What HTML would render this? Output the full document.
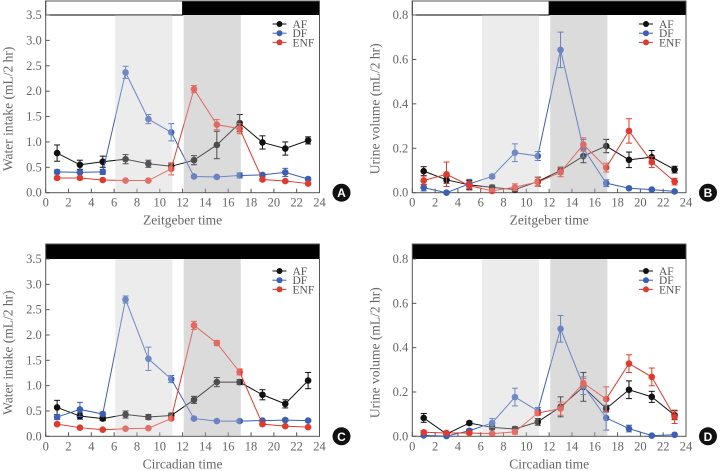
<!DOCTYPE html>
<html><head><meta charset="utf-8"><style>
body{margin:0;background:#fff;}
svg{display:block;font-family:"Liberation Serif",serif;}
</style></head><body>
<svg id="fig" width="720" height="471" viewBox="0 0 720 471" xmlns="http://www.w3.org/2000/svg"></svg>
<script>
const hours=[1,3,5,7,9,11,13,15,17,19,21,23];
const xTicks=[0,2,4,6,8,10,12,14,16,18,20,22,24];
const waterTicks=[0,0.5,1.0,1.5,2.0,2.5,3.0,3.5];
const urineTicks=[0,0.2,0.4,0.6,0.8];
const seriesNames=["AF","DF","ENF"];
// Panel A
const aAF=[0.78,0.55,0.61,0.66,0.57,0.52,0.64,0.94,1.37,0.99,0.87,1.03];
const aAFe=[0.16,0.09,0.11,0.09,0.07,0.05,0.09,0.27,0.17,0.13,0.13,0.07];
const aDF=[0.41,0.40,0.41,2.37,1.45,1.19,0.32,0.31,0.34,0.35,0.40,0.27];
const aDFe=[0.04,0.03,0.05,0.12,0.09,0.17,0.02,0.02,0.05,0.03,0.08,0.03];
const aENF=[0.29,0.29,0.25,0.24,0.24,0.47,2.04,1.34,1.26,0.26,0.23,0.18];
const aENFe=[0.03,0.02,0.02,0.02,0.02,0.12,0.07,0.10,0.10,0.03,0.02,0.02];
// Panel B
const bAF=[0.097,0.058,0.035,0.024,0.014,0.05,0.10,0.165,0.21,0.148,0.16,0.104];
const bAFe=[0.02,0.015,0.02,0.01,0.01,0.02,0.015,0.03,0.03,0.035,0.03,0.015];
const bDF=[0.023,0,0.04,0.073,0.18,0.165,0.643,0.2,0.043,0.02,0.014,0.006];
const bDFe=[0.015,0.005,0.02,0.008,0.04,0.02,0.08,0.04,0.015,0.005,0.005,0.005];
const bENF=[0.055,0.083,0.032,0.008,0.025,0.048,0.092,0.217,0.113,0.278,0.138,0.05];
const bENFe=[0.02,0.055,0.02,0.005,0.015,0.02,0.02,0.03,0.02,0.055,0.025,0.015];
// Panel C
const cAF=[0.57,0.40,0.35,0.43,0.38,0.41,0.72,1.07,1.07,0.82,0.64,1.10];
const cAFe=[0.14,0.06,0.04,0.07,0.05,0.05,0.07,0.09,0.05,0.10,0.08,0.16];
const cDF=[0.38,0.53,0.44,2.70,1.53,1.13,0.35,0.30,0.30,0.31,0.32,0.31];
const cDFe=[0.05,0.14,0.04,0.07,0.23,0.07,0.03,0.02,0.03,0.02,0.03,0.02];
const cENF=[0.24,0.17,0.13,0.15,0.16,0.35,2.19,1.84,1.27,0.24,0.20,0.18];
const cENFe=[0.03,0.02,0.02,0.02,0.02,0.03,0.08,0.05,0.06,0.03,0.02,0.02];
// Panel D
const dAF=[0.083,0.01,0.06,0.04,0.033,0.065,0.133,0.223,0.125,0.21,0.178,0.095];
const dAFe=[0.02,0.005,0.008,0.01,0.01,0.015,0.045,0.065,0.015,0.04,0.025,0.02];
const dDF=[0.004,0.001,0.025,0.06,0.177,0.115,0.485,0.228,0.083,0.035,0.003,0.007];
const dDFe=[0.005,0.003,0.008,0.02,0.04,0.015,0.06,0.04,0.055,0.015,0.003,0.005];
const dENF=[0.018,0.015,0.015,0.012,0.02,0.105,0.125,0.24,0.168,0.328,0.268,0.088];
const dENFe=[0.008,0.005,0.005,0.005,0.01,0.01,0.03,0.02,0.055,0.04,0.04,0.03];

const NS="http://www.w3.org/2000/svg";
const svg=document.getElementById("fig");
function mk(tag,attrs,parent,text){const e=document.createElementNS(NS,tag);for(const k in attrs)e.setAttribute(k,attrs[k]);if(text!==undefined)e.textContent=text;(parent||svg).appendChild(e);return e;}
const colors=["#111","#3a5fb5","#e03a2f"];

const panels=[
 {id:"a",L:45.7,R:319.5,Y0:192.7,Ytop:15,barTop:1,max:3.5,ticks:waterTicks,lightDark:true,ylab:"Water intake (mL/2 hr)",xlab:"Zeitgeber time",letter:"A",data:[[aAF,aAFe],[aDF,aDFe],[aENF,aENFe]]},
 {id:"b",L:412.3,R:686,Y0:192.7,Ytop:15,barTop:1,max:0.8,ticks:urineTicks,lightDark:true,ylab:"Urine volume (mL/2 hr)",xlab:"Zeitgeber time",letter:"B",data:[[bAF,bAFe],[bDF,bDFe],[bENF,bENFe]]},
 {id:"c",L:45.7,R:319.5,Y0:436.3,Ytop:259,barTop:244,max:3.5,ticks:waterTicks,lightDark:false,ylab:"Water intake (mL/2 hr)",xlab:"Circadian time",letter:"C",data:[[cAF,cAFe],[cDF,cDFe],[cENF,cENFe]]},
 {id:"d",L:412.3,R:686,Y0:436.3,Ytop:259,barTop:244,max:0.8,ticks:urineTicks,lightDark:false,ylab:"Urine volume (mL/2 hr)",xlab:"Circadian time",letter:"D",data:[[dAF,dAFe],[dDF,dDFe],[dENF,dENFe]]}
];

panels.forEach(p=>{
 const g=mk("g",{});
 
 
 const xs=v=>p.L+(v/24)*(p.R-p.L);
 const ys=v=>p.Y0-(v/p.max)*(p.Y0-p.Ytop);
 const s1=mk("rect",{x:xs(6.1),y:p.Ytop,width:xs(11.1)-xs(6.1),height:p.Y0-p.Ytop,fill:"#ececec"},g);
 
 
 const s2=mk("rect",{x:xs(12.1),y:p.Ytop,width:xs(17.1)-xs(12.1),height:p.Y0-p.Ytop,fill:"#dcdcdc"},g);
 
 
 if(p.lightDark){
  const w=mk("rect",{x:p.L,y:p.barTop,width:xs(12)-p.L,height:p.Ytop-p.barTop,fill:"#fff",stroke:"#000","stroke-width":1},g);
  
  
  const b=mk("rect",{x:xs(12),y:p.barTop,width:p.R-xs(12),height:p.Ytop-p.barTop,fill:"#000"},g);
  
  
 } else {
  const b=mk("rect",{x:p.L,y:p.barTop,width:p.R-p.L,height:p.Ytop-p.barTop,fill:"#000"},g);
  
  
 }
 mk("rect",{x:p.L,y:p.barTop,width:p.R-p.L,height:p.Y0-p.barTop,fill:"none",stroke:"#555","stroke-width":1},g);
 p.ticks.forEach(t=>{
  const y=ys(t);
  mk("line",{x1:p.L,x2:p.L+4,y1:y,y2:y,stroke:"#555"},g);
  const tl=mk("text",{x:p.L-4,y:y+4,"text-anchor":"end","font-size":12.5,fill:"#666"},g,t.toFixed(1));
  
  
 });
 xTicks.forEach(t=>{
  const x=xs(t);
  mk("line",{x1:x,x2:x,y1:p.Y0,y2:p.Y0-4,stroke:"#555"},g);
  const tl=mk("text",{x:x,y:p.Y0+14,"text-anchor":"middle","font-size":12.5,fill:"#666"},g,String(t));
  
  
 });
 const yt=mk("text",{x:0,y:0,transform:`translate(${p.L-33},${(p.Y0+p.Ytop)/2+5}) rotate(-90)`,"text-anchor":"middle","font-size":13.5,fill:"#666"},g,p.ylab);
 
 
 const xt=mk("text",{x:(p.L+p.R)/2,y:p.Y0+32,"text-anchor":"middle","font-size":13.5,fill:"#666"},g,p.xlab);
 
 
 p.data.forEach((sd,si)=>{
  const [vals,errs]=sd;
  const sg=mk("g",{},g);
  
  
  const pts=hours.map((h,i)=>xs(h)+","+ys(vals[i])).join(" ");
  mk("polyline",{points:pts,fill:"none",stroke:colors[si],"stroke-width":1},sg);
  hours.forEach((h,i)=>{
   const x=xs(h),y1=ys(vals[i]+errs[i]),y2=ys(Math.max(0,vals[i]-errs[i]));
   mk("line",{x1:x,x2:x,y1:y1,y2:y2,stroke:colors[si],"stroke-width":1},sg);
   mk("line",{x1:x-3,x2:x+3,y1:y1,y2:y1,stroke:colors[si]},sg);
   mk("line",{x1:x-3,x2:x+3,y1:y2,y2:y2,stroke:colors[si]},sg);
   const c=mk("circle",{cx:x,cy:ys(vals[i]),r:3.3,fill:colors[si]},sg);
   
   
  });
 });
 // translucent overlays to fade marks inside shaded periods
 mk("rect",{x:xs(6.1),y:p.Ytop,width:xs(11.1)-xs(6.1),height:p.Y0-p.Ytop-0.5,fill:"#ececec","fill-opacity":0.3},g);
 mk("rect",{x:xs(12.1),y:p.Ytop,width:xs(17.1)-xs(12.1),height:p.Y0-p.Ytop-0.5,fill:"#dcdcdc","fill-opacity":0.3},g);
 const lg=mk("g",{},g);
 
 
 const lx=p.R-47, ly0=p.barTop+(p.lightDark?23:27);
 seriesNames.forEach((n,i)=>{
  const y=ly0+i*9.2;
  mk("line",{x1:lx,x2:lx+14,y1:y,y2:y,stroke:colors[i]},lg);
  mk("circle",{cx:lx+7,cy:y,r:3,fill:colors[i]},lg);
  const t=mk("text",{x:lx+20,y:y+4,"font-size":11.5,fill:"#555"},lg,n);
  
  
 });
 const bx=p.R+22, by=p.Y0;
 mk("circle",{cx:bx,cy:by,r:9,fill:"#111"},g);
 const bt=mk("text",{x:bx,y:by+4.5,"text-anchor":"middle","font-size":12,"font-weight":"bold",fill:"#fff","font-family":"Liberation Sans, sans-serif"},g,p.letter);
 
 
});
</script>
</body></html>
